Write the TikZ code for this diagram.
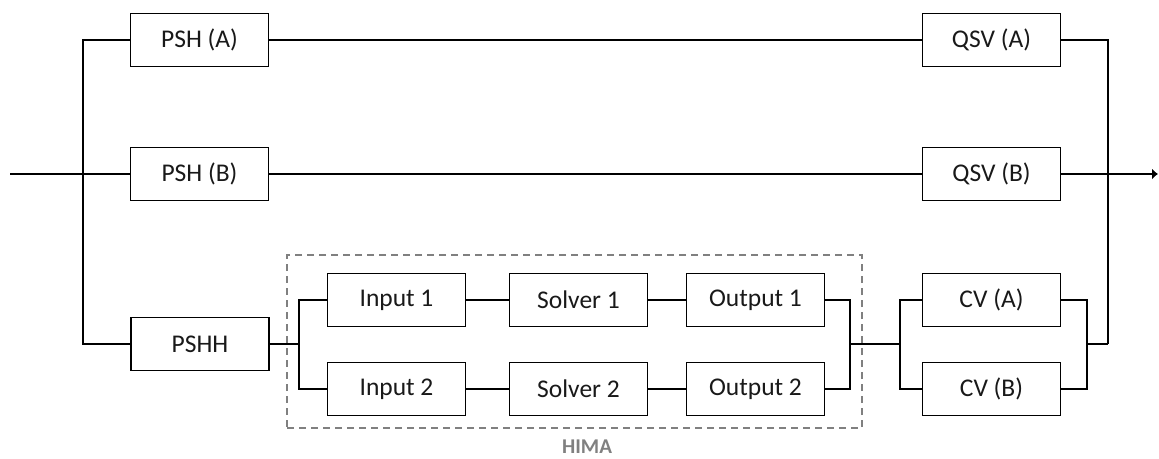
\documentclass[tikz,border=0pt]{standalone}
\usepackage{fontspec}
\setmainfont{Carlito}
\usetikzlibrary{arrows.meta}
\tikzset{
  blk/.style={draw=black, line width=1.5pt, fill=white, minimum width=138pt, minimum height=53pt,
    inner sep=0pt, font=\fontsize{25.5}{30}\selectfont, text=black!90},
  wire/.style={draw=black, line width=1.6pt},
  group/.style={draw=black!50, line width=1.4pt, dash pattern=on 7pt off 5pt},
  grouplabel/.style={font=\fontsize{21}{25}\selectfont\bfseries, text=black!50}
}
\begin{document}
\begin{tikzpicture}[x=1pt,y=-1pt]
  \useasboundingbox (0,0) rectangle (1159,458);

  % HIMA safety system boundary
  \node[group, minimum width=575pt, minimum height=173pt, inner sep=0pt] (hima) at (574.5,341.5) {};
  \node[grouplabel, inner sep=0pt] (himalabel) at (587,447) {HIMA};

  % channel blocks
  \node[blk] (psha) at (199.5,40) {PSH (A)};
  \node[blk] (pshb) at (199.5,174) {PSH (B)};
  \node[blk] (pshh) at (200,344) {PSHH};
  \node[blk] (in1)  at (396.5,300) {Input 1};
  \node[blk] (in2)  at (396.5,389) {Input 2};
  \node[blk] (sol1) at (578.5,300) {Solver 1};
  \node[blk] (sol2) at (578.5,389) {Solver 2};
  \node[blk] (out1) at (755.5,300) {Output 1};
  \node[blk] (out2) at (755.5,389) {Output 2};
  \node[blk] (cva)  at (991.5,300) {CV (A)};
  \node[blk] (cvb)  at (991.5,389) {CV (B)};
  \node[blk] (qsva) at (991.5,40) {QSV (A)};
  \node[blk] (qsvb) at (991.5,174) {QSV (B)};

  % junction points
  \coordinate (src) at (10,174);
  \coordinate (sink) at (1158,174);
  \coordinate (jl) at (83,174);
  \coordinate (f1) at (299,344);
  \coordinate (j2) at (850,344);
  \coordinate (f2) at (900,344);
  \coordinate (j3) at (1087,344);
  \coordinate (jr) at (1108,344);

  % input and left bus
  \draw[wire] (src) -- (pshb.west);
  \draw[wire] (psha.west) -| (jl) |- (pshh.west);

  % upper channels
  \draw[wire] (psha.east) -- (qsva.west);
  \draw[wire] (pshb.east) -- (qsvb.west);

  % HIMA redundant paths
  \draw[wire] (pshh.east) -- (f1);
  \draw[wire] (in1.west) -| (f1) |- (in2.west);
  \draw[wire] (in1) -- (sol1);
  \draw[wire] (sol1) -- (out1);
  \draw[wire] (in2) -- (sol2);
  \draw[wire] (sol2) -- (out2);
  \draw[wire] (out1.east) -| (j2) |- (out2.east);
  \draw[wire] (j2) -- (f2);

  % control valves
  \draw[wire] (cva.west) -| (f2) |- (cvb.west);
  \draw[wire] (cva.east) -| (j3) |- (cvb.east);
  \draw[wire] (j3) -- (jr);

  % right bus and output
  \draw[wire] (qsva.east) -| (jr);
  \draw[wire, -{Latex[length=6pt,width=11pt]}] (qsvb.east) -- (sink);
\end{tikzpicture}
\end{document}
